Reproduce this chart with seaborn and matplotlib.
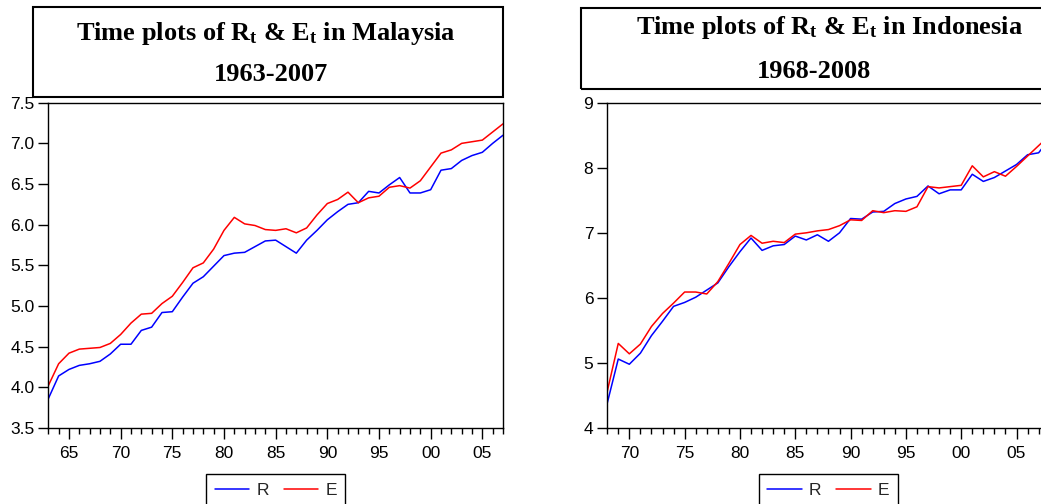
import numpy as np
import pandas as pd
import matplotlib
matplotlib.use("Agg")
import matplotlib.pyplot as plt
import seaborn as sns
from matplotlib.patches import Rectangle
from matplotlib.ticker import FixedLocator, MultipleLocator

# ---- Malaysia, 1963-2007 ----
years_my = list(range(1963, 2008))
r_my = [3.86, 4.14, 4.22, 4.27, 4.29, 4.32, 4.41, 4.53, 4.53, 4.70, 4.74,
        4.92, 4.93, 5.11, 5.28, 5.36, 5.49, 5.62, 5.65, 5.66, 5.73, 5.80,
        5.81, 5.73, 5.65, 5.81, 5.93, 6.06, 6.16, 6.25, 6.27, 6.41, 6.39,
        6.49, 6.58, 6.39, 6.39, 6.43, 6.67, 6.69, 6.79, 6.85, 6.89, 7.00, 7.10]
e_my = [4.02, 4.29, 4.42, 4.47, 4.48, 4.49, 4.54, 4.65, 4.79, 4.90, 4.91,
        5.03, 5.12, 5.29, 5.47, 5.53, 5.70, 5.93, 6.09, 6.01, 5.99, 5.94,
        5.93, 5.95, 5.90, 5.96, 6.12, 6.26, 6.31, 6.40, 6.27, 6.33, 6.35,
        6.46, 6.48, 6.45, 6.54, 6.71, 6.88, 6.92, 7.00, 7.02, 7.04, 7.14, 7.24]
xticks_my = [1965, 1970, 1975, 1980, 1985, 1990, 1995, 2000, 2005]
xlabels_my = ["65", "70", "75", "80", "85", "90", "95", "00", "05"]
yticks_my = [3.5, 4.0, 4.5, 5.0, 5.5, 6.0, 6.5, 7.0, 7.5]

# ---- Indonesia, 1968-2008 ----
years_id = list(range(1968, 2009))
r_id = [4.38, 5.06, 4.98, 5.15, 5.42, 5.64, 5.87, 5.93, 6.01, 6.12, 6.23,
        6.48, 6.71, 6.92, 6.73, 6.80, 6.82, 6.95, 6.89, 6.97, 6.87, 7.00,
        7.22, 7.21, 7.32, 7.33, 7.45, 7.52, 7.56, 7.72, 7.60, 7.66, 7.66,
        7.90, 7.79, 7.85, 7.95, 8.05, 8.20, 8.23, 8.45]
e_id = [4.56, 5.30, 5.14, 5.29, 5.56, 5.76, 5.92, 6.09, 6.09, 6.06, 6.25,
        6.53, 6.82, 6.96, 6.84, 6.87, 6.85, 6.98, 7.00, 7.03, 7.05, 7.11,
        7.20, 7.19, 7.34, 7.31, 7.34, 7.33, 7.40, 7.71, 7.69, 7.71, 7.73,
        8.03, 7.86, 7.94, 7.87, 8.02, 8.18, 8.34, 8.50]
xticks_id = [1970, 1975, 1980, 1985, 1990, 1995, 2000, 2005]
xlabels_id = ["70", "75", "80", "85", "90", "95", "00", "05"]
yticks_id = [4, 5, 6, 7, 8, 9]

series_names = ["R", "E"]
palette = {"R": "#0000ff", "E": "#ff0000"}

sns.set_style("ticks")
plt.rcParams["font.family"] = ["Liberation Sans", "DejaVu Sans"]
plt.rcParams.update({
    "mathtext.fontset": "custom",
    "mathtext.rm": "Liberation Serif:bold",
    "mathtext.it": "Liberation Serif:bold",
    "mathtext.bf": "Liberation Serif:bold",
    "axes.edgecolor": "black",
    "xtick.color": "black",
    "ytick.color": "black",
})

W, H = 1041, 504
fig = plt.figure(figsize=(W / 100, H / 100), dpi=100)


def px_axes(x0, y0, x1, y1):
    return fig.add_axes([x0 / W, 1 - y1 / H, (x1 - x0) / W, (y1 - y0) / H])


def panel(ax, years, r, e, yticks, yfmt, xticks, xlabels):
    df = pd.DataFrame({
        "year": years + years,
        "value": r + e,
        "series": [series_names[0]] * len(years) + [series_names[1]] * len(years),
    })
    sns.lineplot(data=df, x="year", y="value", hue="series",
                 hue_order=series_names, palette=palette,
                 linewidth=1.1, ax=ax)
    ax.set_xlim(years[0], years[-1])
    ax.set_ylim(yticks[0], yticks[-1])
    ax.set_xlabel("")
    ax.set_ylabel("")
    ax.yaxis.set_major_locator(FixedLocator(yticks))
    ax.set_yticklabels([yfmt.format(v) for v in yticks])
    ax.xaxis.set_major_locator(FixedLocator(xticks))
    ax.set_xticklabels(xlabels)
    ax.xaxis.set_minor_locator(MultipleLocator(1))
    ax.tick_params(axis="y", direction="out", length=7, width=1,
                   labelsize=12.5, pad=3)
    ax.tick_params(axis="x", which="major", direction="out", length=8,
                   width=1, labelsize=12.5, pad=5)
    ax.tick_params(axis="x", which="minor", direction="out", length=4,
                   width=1)
    for sp in ax.spines.values():
        sp.set_visible(True)
        sp.set_linewidth(1.0)
        sp.set_color("black")
    ax.grid(False)
    sns.move_legend(ax, "upper center", bbox_to_anchor=(0.5, -46 / 325.3),
                    ncol=2, title=None, frameon=True, fancybox=False,
                    edgecolor="black", framealpha=1, fontsize=12.5,
                    handlelength=2.0, handletextpad=0.4, columnspacing=0.85,
                    borderpad=0.5, borderaxespad=0)
    leg = ax.get_legend()
    leg.get_frame().set_linewidth(1.0)
    for ln in leg.get_lines():
        ln.set_linewidth(1.1)


ax1 = px_axes(48.3, 102.7, 503, 428)
ax2 = px_axes(607.2, 102.7, 1049.7, 428)
panel(ax1, years_my, r_my, e_my, yticks_my, "{:.1f}", xticks_my, xlabels_my)
panel(ax2, years_id, r_id, e_id, yticks_id, "{:d}", xticks_id, xlabels_id)


def title_box(x0, y0, x1, y1):
    fig.add_artist(Rectangle((x0 / W, 1 - y1 / H), (x1 - x0) / W, (y1 - y0) / H,
                             transform=fig.transFigure, fill=False,
                             edgecolor="black", linewidth=1.5))


def title_line(xc, baseline, s):
    fig.text(xc / W, 1 - baseline / H, s, ha="center", va="baseline",
             fontsize=19, fontfamily="Liberation Serif", fontweight="bold",
             color="black")


title_box(33, 7.5, 503, 96.7)
title_line(266, 40, r"Time plots of $\mathrm{R_t}$ & $\mathrm{E_t}$ in Malaysia")
title_line(271, 81, "1963-2007")

title_box(580.7, 7.5, 1085, 88.5)
title_line(830, 34, r"Time plots of $\mathrm{R_t}$ & $\mathrm{E_t}$ in Indonesia")
title_line(814, 77.5, "1968-2008")

fig.savefig("out.png", dpi=100)
